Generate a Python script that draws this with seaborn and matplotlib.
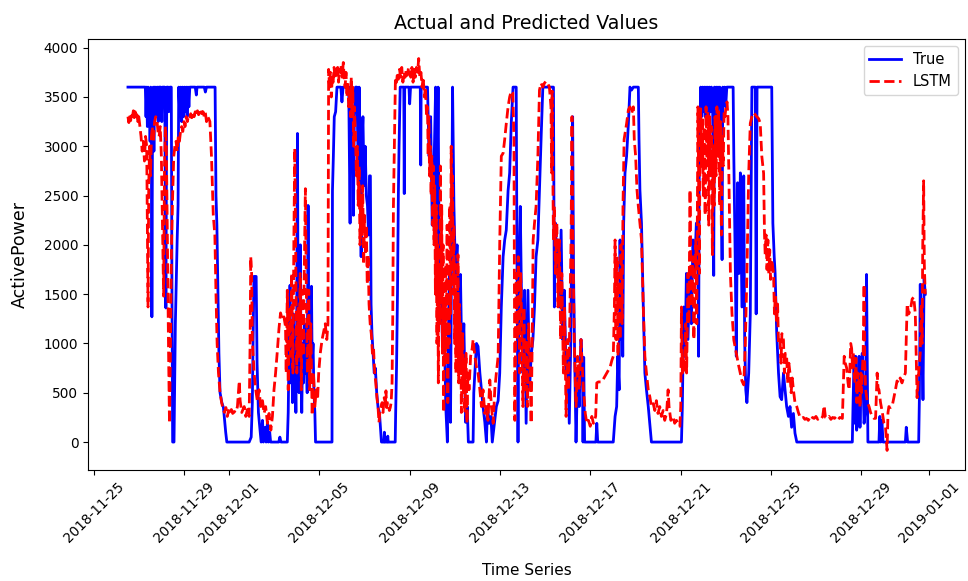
import matplotlib
matplotlib.use("Agg")
import matplotlib.pyplot as plt
import matplotlib.dates as mdates
import seaborn as sns
import pandas as pd

START = "2018-11-25"

# ---- True series: day offsets from START and ActivePower values ----
true_days = [
    1.52, 2.29, 2.32, 2.35, 2.38, 2.41, 2.44, 2.47, 2.50, 2.53, 2.56, 2.58, 2.61, 2.64, 2.67, 2.70, 2.73, 2.76, 2.80, 2.83,
    2.86, 2.89, 2.98, 3.02, 3.05, 3.15, 3.20, 3.24, 3.30, 3.33, 3.38, 3.44, 3.47, 3.50, 3.56, 3.62, 3.70, 3.74, 3.77, 3.82,
    3.86, 3.90, 3.94, 3.98, 4.02, 4.06, 4.10, 4.14, 4.18, 4.22, 4.26, 4.50, 4.55, 4.58, 4.90, 4.95, 5.00, 5.38, 5.42, 5.46,
    5.50, 5.55, 5.60, 5.68, 5.75, 5.85, 5.90,
    6.89, 6.98, 7.03, 7.10, 7.20, 7.24, 7.30, 7.36, 7.42, 7.48, 7.52, 7.60, 7.64, 7.70, 7.74, 7.80, 7.84, 8.20, 8.25, 8.30,
    8.58, 8.62, 8.66, 8.70, 8.73, 8.77, 8.81, 8.85, 8.88, 8.92, 8.96, 9.00, 9.03, 9.06, 9.10, 9.13, 9.16, 9.19, 9.22, 9.26,
    9.30, 9.34, 9.38, 9.42, 9.46, 9.50, 9.53, 9.57, 9.61, 9.65, 9.68, 9.72, 9.76, 9.80, 9.83,
    10.56, 10.58, 10.62, 10.66, 10.72, 10.78, 10.95, 11.00, 11.05, 11.30, 11.36, 11.40,
    11.44, 11.48, 11.51, 11.55, 11.60, 11.66, 11.72, 11.76, 11.80, 11.85, 11.88, 11.93, 11.98, 12.03, 12.08, 12.13, 12.18,
    12.22, 12.26, 12.29, 12.33, 12.38, 12.43, 12.48, 12.54, 12.60, 12.66, 12.72, 12.75, 12.86, 12.88, 12.90, 13.01, 13.03,
    13.05, 13.36, 13.38, 13.42, 13.46, 13.50, 13.53, 13.58, 13.74, 13.76, 13.78, 13.97, 14.00, 14.04, 14.47, 14.49, 14.51,
    14.79, 14.86, 14.93, 15.00, 15.08, 15.15, 15.19, 15.26, 15.32, 15.38, 15.45, 15.52, 15.60, 15.67, 15.71, 15.76, 15.81,
    15.86, 15.90, 15.96, 16.03, 16.10, 16.18, 16.25, 16.32, 16.40, 16.48, 16.55, 16.60,
    16.81, 16.84, 16.96, 17.03, 17.11, 17.18, 17.25, 17.33, 17.40, 17.45, 17.52, 17.60, 17.66, 17.84, 17.92, 17.99, 18.06,
    18.14, 18.21, 18.28, 18.36, 18.43, 18.50, 18.58, 18.72, 18.75, 18.80, 18.84, 18.90, 18.96, 19.02, 19.09, 19.16, 19.24,
    19.31, 19.38, 19.46, 19.53, 19.60, 19.68, 19.75, 19.83, 19.90, 20.37, 20.41, 20.46, 20.52, 20.57, 20.63, 20.71, 20.78,
    20.85, 20.93, 21.00, 21.07, 21.14, 21.22, 21.26, 21.31, 21.37, 21.44, 21.51, 21.59, 21.66,
    21.68, 21.71, 21.75, 22.25, 22.29, 22.33, 23.02, 23.10, 23.17, 23.22, 23.28, 23.32, 23.36, 23.39, 23.44, 23.48, 23.54,
    23.61, 23.69, 23.76, 23.83, 23.91, 24.13, 24.16, 24.20, 24.27, 24.35, 24.42, 24.49, 24.57, 24.71, 26.04, 26.08, 26.14,
    26.20, 26.26, 26.33, 26.40, 26.48, 26.55, 26.62, 26.70, 26.77,
    26.80, 26.83, 26.89, 26.93, 26.97, 27.01, 27.05, 27.09, 27.13, 27.17, 27.21, 27.25, 27.29, 27.33, 27.37, 27.42, 27.47,
    27.50, 27.54, 27.58, 27.62, 27.66, 27.70, 27.74, 27.78, 27.84, 27.87, 27.91, 27.95, 28.00, 28.05, 28.33, 28.36, 28.43,
    28.47, 28.53, 28.59, 28.65, 28.72, 28.80, 28.84, 28.89, 28.94, 29.02, 29.09, 29.16, 29.31, 29.35, 29.39, 30.04, 30.09,
    30.15, 30.19, 30.26, 30.34, 30.41, 30.48, 30.56, 30.63, 30.70, 30.78, 30.85, 30.92, 31.00, 31.07, 31.15,
    33.61, 33.64, 33.69, 33.73, 33.76, 33.80, 33.84, 33.91, 33.95, 34.00, 34.05, 34.13, 34.20, 34.24, 34.30, 34.79, 34.83,
    34.87, 34.92, 34.97, 35.96, 36.00, 36.06, 36.55, 36.58, 36.62, 36.66, 36.70, 36.74, 36.79, 36.84,
]
true_power = [
    3600, 3600, 3300, 3600, 3200, 3600, 3250, 3550, 3050, 3600, 3300, 1270, 3400, 3600, 2950, 3600, 3300, 3600, 3450, 3600,
    3250, 3600, 3600, 3250, 3600, 3600, 1360, 3600, 3600, 3350, 3600, 3600, 1500, 0, 0, 1200, 2050, 2400, 3600, 3300,
    3600, 3250, 3600, 3300, 3600, 3350, 3600, 3300, 3600, 3400, 3600, 3600, 3520, 3600, 3600, 3550, 3600, 3600, 2500, 2200,
    1600, 900, 500, 400, 350, 100, 0,
    0, 50, 400, 1680, 1680, 800, 300, 150, 0, 220, 0, 150, 0, 200, 0, 100, 0, 0, 50, 0,
    0, 300, 1000, 1590, 600, 1100, 400, 1300, 600, 900, 300, 1400, 3130, 1000, 500, 1200, 2000, 700, 300, 1000,
    600, 1200, 700, 1000, 500, 2400, 1000, 600, 1100, 1580, 800, 1000, 500, 300, 0,
    0, 2550, 2900, 3300, 3350, 3600, 3600, 3450, 3600, 3600, 2220, 3600,
    2800, 3400, 2300, 3300, 3600, 3600, 2800, 3600, 3100, 1880, 3000, 3300, 2600, 3000, 2500, 2400, 2100,
    2700, 2700, 1400, 1100, 900, 700, 750, 500, 350, 300, 100, 0, 0, 100, 0, 0, 60,
    0, 0, 300, 780, 1500, 2520, 3000, 3600, 3600, 2520, 3600, 3600, 3430, 3600, 3600, 2810, 3600,
    3600, 2900, 3300, 2200, 2800, 3600, 2000, 3600, 1400, 2000, 1000, 1400, 360, 0, 1000, 1700, 200,
    2000, 3600, 2400, 1700, 2000, 1200, 1700, 700, 1200, 200, 360, 0,
    0, 500, 1000, 970, 700, 530, 360, 200, 0, 360, 190, 260, 0, 360, 420, 700, 1370,
    1880, 2050, 2150, 2550, 2730, 3230, 3600, 3600, 2050, 0, 1710, 2390, 1370, 700, 1540, 190, 1540,
    530, 870, 1040, 1370, 1880, 2050, 2560, 3130, 3600, 3600, 1370, 2220, 1710, 2050, 1370, 2150, 1040,
    1540, 700, 870, 190, 1040, 3300, 1710, 870, 0, 700, 360, 1040, 700,
    0, 860, 0, 0, 190, 0, 0, 260, 360, 870, 530, 2050, 1040, 1980, 870, 2220, 2730,
    2900, 3230, 3600, 3570, 3600, 3600, 3070, 2560, 2220, 1370, 700, 530, 360, 0, 0, 360, 1370,
    870, 1710, 1040, 1710, 1200, 2050, 1710, 2220, 2050,
    870, 2730, 3600, 3300, 3600, 3350, 3600, 3300, 3600, 3400, 3600, 3300, 3600, 3350, 3600, 3450, 1690,
    3600, 3300, 3600, 3350, 3600, 3400, 3600, 3300, 1850, 3600, 3450, 3600, 3400, 3600, 3600, 2900, 1710,
    870, 2630, 1710, 2730, 1370, 2700, 1040, 530, 400, 700, 1300, 3600, 3600, 1300, 3600, 3600, 2220,
    1880, 1710, 1110, 700, 460, 430, 700, 530, 360, 260, 360, 150, 290, 90, 0,
    0, 360, 870, 190, 870, 120, 190, 870, 150, 700, 900, 190, 360, 1700, 0, 0, 260,
    0, 220, 0, 0, 150, 0, 0, 430, 1600, 700, 1040, 430, 1670, 1500,
]

# ---- LSTM prediction series ----
pred_days = [
    1.52, 1.56, 1.60, 1.64, 1.68, 1.72, 1.76, 1.80, 1.84, 1.88, 1.92, 1.96, 2.00, 2.05, 2.10, 2.15, 2.20, 2.25, 2.30, 2.35,
    2.38, 2.41, 2.44, 2.48, 2.52, 2.56, 2.60, 2.65, 2.70, 2.75, 2.80, 2.85, 2.90, 2.95, 3.00, 3.05, 3.10, 3.14, 3.18, 3.22,
    3.27, 3.32, 3.36, 3.40, 3.45, 3.50, 3.55, 3.60, 3.65, 3.70, 3.75, 3.80, 3.85, 3.90, 3.95, 4.00, 4.05, 4.10, 4.15, 4.20,
    4.25, 4.30, 4.35, 4.40, 4.45, 4.50, 4.55, 4.60, 4.65, 4.70, 4.75, 4.80, 4.85, 4.90, 4.95, 5.00, 5.05, 5.10, 5.15, 5.22,
    5.30, 5.37, 5.42, 5.47, 5.53, 5.60, 5.67, 5.74, 5.80, 5.86, 5.92, 5.98, 6.04, 6.10, 6.16, 6.23, 6.30, 6.37, 6.45, 6.49,
    6.56, 6.67, 6.74, 6.81, 6.89, 6.93, 6.96, 7.00, 7.03, 7.11, 7.18, 7.25, 7.33, 7.40, 7.48, 7.55, 7.62, 7.70, 7.77, 7.85,
    7.92, 7.99, 8.06, 8.14, 8.21, 8.28, 8.36, 8.43, 8.50, 8.53, 8.58, 8.62, 8.68, 8.72, 8.77, 8.83, 8.87, 8.91, 8.96, 9.00,
    9.05, 9.09, 9.15, 9.20, 9.24, 9.28, 9.33, 9.38, 9.43, 9.47, 9.53, 9.57, 9.62, 9.68, 9.74, 9.80, 9.86, 9.92, 9.97, 10.04,
    10.12, 10.19, 10.26, 10.33, 10.38, 10.41,
    10.45, 10.49, 10.53, 10.57, 10.61, 10.65, 10.69, 10.73, 10.77, 10.81, 10.85, 10.89, 10.93, 10.97, 11.01, 11.06, 11.10,
    11.14, 11.18, 11.22, 11.26, 11.30, 11.34, 11.38, 11.41, 11.45, 11.48, 11.52, 11.55, 11.60, 11.64, 11.68, 11.72, 11.76,
    11.80, 11.84, 11.88, 11.92, 11.96, 12.00, 12.04, 12.08, 12.12, 12.16, 12.20, 12.25, 12.30, 12.35, 12.40, 12.45, 12.50,
    12.55, 12.60, 12.64, 12.68, 12.72, 12.78, 12.82, 12.87, 12.92, 12.95, 12.98, 13.02, 13.06, 13.10, 13.14, 13.18, 13.22,
    13.25, 13.28, 13.32, 13.37, 13.42, 13.46, 13.50, 13.55, 13.60, 13.65, 13.70, 13.75, 13.80, 13.85, 13.90, 13.95, 14.00,
    14.05, 14.10, 14.15, 14.20, 14.25, 14.30, 14.35, 14.40, 14.45, 14.50, 14.55, 14.60, 14.65, 14.70, 14.75, 14.79,
    14.82, 14.85, 14.88, 14.92, 14.95, 14.98, 15.02, 15.05, 15.08, 15.11, 15.14, 15.18, 15.21, 15.24, 15.27, 15.30, 15.33,
    15.36, 15.39, 15.42, 15.45, 15.48, 15.51, 15.54, 15.57, 15.60, 15.63, 15.66, 15.69, 15.72, 15.75, 15.78, 15.81, 15.84,
    15.87, 15.90, 15.93, 15.96, 15.99, 16.02, 16.05, 16.08, 16.11, 16.14, 16.17, 16.20, 16.23, 16.26, 16.29, 16.32, 16.35,
    16.38, 16.41, 16.44, 16.47, 16.50,
    16.54, 16.58, 16.63, 16.70, 16.77, 16.81, 16.89, 16.96, 17.03, 17.11, 17.18, 17.25, 17.33, 17.40, 17.47, 17.55, 17.62,
    17.70, 17.77, 17.84, 17.92, 17.99, 18.06, 18.14, 18.21, 18.28, 18.36, 18.43, 18.50, 18.57, 18.62, 18.66, 18.72, 18.77,
    18.81, 18.87, 18.92, 18.96, 19.02, 19.06, 19.11, 19.16, 19.22, 19.27, 19.34, 19.38, 19.43, 19.47, 19.53, 19.60, 19.68,
    19.75, 19.82, 19.90, 19.97, 20.04, 20.11, 20.19, 20.26, 20.29, 20.31, 20.37, 20.41, 20.46, 20.52, 20.57, 20.63, 20.69,
    20.74, 20.81, 20.86, 20.93, 20.99, 21.04, 21.10, 21.15, 21.19, 21.23, 21.29, 21.37, 21.44, 21.51, 21.59, 21.66,
    21.70, 21.78, 21.85, 21.92, 22.00, 22.07, 22.14, 22.24, 22.29, 22.36, 22.51, 22.73, 22.88, 22.96, 23.02, 23.07, 23.10,
    23.14, 23.19, 23.23, 23.28, 23.32, 23.36, 23.41, 23.45, 23.50, 23.54, 23.61, 23.69, 23.76, 23.83, 23.91, 23.95, 24.01,
    24.07, 24.13, 24.20, 24.27, 24.35, 24.42, 24.49, 24.57, 24.64, 24.71, 24.79, 24.86, 24.93, 25.00, 25.08, 25.15, 25.23,
    25.30, 25.38, 25.45, 25.49, 25.57, 25.67, 25.74, 25.82, 25.89, 25.97, 26.01, 26.04, 26.08, 26.12, 26.18, 26.23, 26.27,
    26.33, 26.37, 26.42, 26.46, 26.50, 26.55, 26.59, 26.64, 26.68, 26.72, 26.77,
    26.80, 26.83, 26.87, 26.89, 26.93, 26.97, 27.01, 27.05, 27.09, 27.13, 27.17, 27.21, 27.25, 27.29, 27.33, 27.37, 27.41,
    27.45, 27.49, 27.53, 27.57, 27.61, 27.65, 27.69, 27.73, 27.77, 27.81, 27.85, 27.89, 27.93, 27.97, 28.01, 28.06, 28.10,
    28.14, 28.21, 28.28, 28.36, 28.43, 28.50, 28.57, 28.65, 28.72, 28.80, 28.87, 28.94, 29.02, 29.09, 29.16, 29.24, 29.31,
    29.38, 29.46, 29.53, 29.60, 29.68, 29.72, 29.75, 29.79, 29.83, 29.87, 29.91, 29.95, 29.99, 30.04, 30.12, 30.16, 30.20,
    30.26, 30.30, 30.34, 30.41, 30.45, 30.49, 30.56, 30.60, 30.64, 30.70, 30.75, 30.80, 30.85, 30.90, 30.95, 31.00, 31.07,
    31.15, 31.22, 31.29, 31.36, 31.44, 31.51, 31.58, 31.66, 31.73, 31.80,
    31.85, 31.92, 32.00, 32.08, 32.16, 32.24, 32.30, 32.36, 32.42, 32.50, 32.58, 32.66, 32.74, 32.82, 32.90, 32.98, 33.06,
    33.17, 33.25, 33.30, 33.36, 33.42, 33.47, 33.54, 33.58, 33.62, 33.66, 33.69, 33.73, 33.77, 33.81, 33.85, 33.88, 33.91,
    33.95, 33.99, 34.02, 34.05, 34.09, 34.13, 34.16, 34.20, 34.28, 34.35, 34.42, 34.49, 34.57, 34.64, 34.71, 34.75, 34.79,
    34.86, 34.94, 35.01, 35.08, 35.15, 35.19, 35.23, 35.30, 35.38, 35.45, 35.52, 35.59, 35.66, 35.73, 35.81, 35.88, 35.96,
    36.04, 36.11, 36.19, 36.26, 36.33, 36.40, 36.48, 36.55, 36.62, 36.66, 36.70, 36.73, 36.77, 36.80, 36.84,
]
pred_power = [
    3300, 3240, 3320, 3260, 3340, 3300, 3360, 3290, 3350, 3280, 3320, 3250, 3300, 3200, 3100, 2950, 3050, 2850, 3100, 3000,
    2200, 1370, 2600, 3000, 2700, 3100, 3200, 3050, 3250, 3300, 3280, 3150, 3100, 3200, 2900, 2200, 1480, 2800, 3200, 3000,
    2000, 900, 190, 900, 2000, 2500, 2900, 3000, 3050, 2950, 3100, 3050, 3150, 3200, 3150, 3250, 3200, 3300, 3250, 3300,
    3280, 3330, 3290, 3340, 3300, 3350, 3310, 3360, 3320, 3340, 3380, 3330, 3350, 3300, 3340, 3250, 3300, 3280, 3250, 2900,
    2300, 2100, 1500, 1000, 700, 500, 400, 330, 300, 350, 260, 320, 280, 330, 290, 310, 300, 360, 620, 420,
    300, 360, 260, 330, 260, 1000, 1880, 1700, 1040, 700, 530, 420, 530, 360, 420, 290, 360, 190, 290, 120,
    260, 530, 700, 930, 1150, 1310, 1240, 1270, 1170, 700, 1540, 530, 1370, 870, 1710, 700, 2050, 2980, 1710, 700,
    1370, 870, 1710, 530, 1540, 870, 1710, 2570, 1370, 700, 1540, 530, 1200, 270, 700, 360, 530, 430, 700, 900,
    1040, 1120, 1200, 1040, 1200, 3780,
    3600, 3750, 3500, 3700, 3650, 3800, 3700, 3780, 3720, 3800, 3650, 3780, 3750, 3820, 3700, 3850, 3700,
    3600, 3750, 3500, 3650, 3400, 3550, 3300, 3700, 3300, 3600, 3000, 3400, 3100, 2700, 3000, 2400, 2800,
    2000, 2500, 2100, 2600, 1800, 2300, 1900, 2200, 1600, 1900, 1400, 1200, 1100, 900, 950, 700, 600,
    450, 350, 200, 300, 350, 400, 300, 450, 400, 520, 350, 400, 380, 320, 350, 400, 600,
    1250, 2390, 3000, 3700, 3650, 3750, 3680, 3780, 3700, 3800, 3650, 3750, 3700, 3780, 3720, 3800, 3750,
    3700, 3800, 3650, 3780, 3700, 3800, 3750, 3890, 3700, 3750, 3600, 3700, 3500, 3600, 3300, 3400,
    2900, 3300, 2700, 3000, 2500, 2900, 2200, 2800, 2000, 2600, 1500, 2400, 1000, 2000, 600, 1800, 1200,
    2800, 1500, 2400, 900, 2000, 300, 1400, 800, 1800, 1000, 2200, 400, 1600, 1000, 2400, 1300, 3000,
    2200, 2700, 1500, 2200, 1000, 1800, 700, 1500, 1000, 1900, 600, 1400, 800, 1200, 300, 900, 1100,
    500, 800, 300, 700, 900,
    190, 700, 530, 870, 950, 1040, 870, 760, 700, 530, 360, 530, 290, 360, 220, 630, 360,
    190, 530, 700, 870, 2020, 2900, 2930, 3070, 3230, 3400, 3500, 3560, 3540, 3070, 220, 1710, 1040,
    1880, 700, 1710, 1200, 360, 1370, 530, 1040, 360, 1200, 700, 190, 1040, 2050, 2220, 2390, 2900,
    3570, 3640, 3600, 3640, 3660, 3640, 3600, 3400, 2730, 3560, 2050, 2390, 1710, 2220, 1370, 2050, 1040,
    1710, 700, 1370, 260, 1040, 530, 1370, 2050, 3300, 2050, 1040, 360, 870, 530, 1040, 700,
    530, 290, 190, 220, 160, 260, 190, 260, 600, 610, 610, 700, 760, 830, 870, 1370, 2050,
    1040, 1880, 870, 1710, 1040, 2000, 1200, 2390, 3070, 3130, 3230, 3370, 3400, 3330, 3400, 3070, 2900,
    2560, 2390, 2220, 2050, 1370, 870, 700, 530, 460, 360, 390, 320, 420, 290, 360, 260, 320,
    220, 290, 530, 360, 220, 260, 190, 220, 190, 160, 360, 1370, 700, 870, 700, 1200, 700,
    1710, 1200, 2560, 1710, 1370, 1880, 1040, 1540, 2050, 1200, 3400,
    2730, 1710, 3230, 3380, 2800, 3300, 2500, 3200, 2300, 3400, 2800, 3350, 2200, 3300, 2700, 3200, 1900,
    3000, 2400, 3300, 2700, 3400, 2900, 3350, 2400, 3250, 2100, 3100, 2800, 3350, 3300, 3400, 3450, 3300,
    2700, 1700, 1300, 1035, 950, 866, 780, 697, 620, 580, 1000, 1712, 2726, 3234, 3300, 3340, 3320,
    3300, 3280, 3234, 2900, 2726, 2100, 1900, 2100, 1750, 2050, 1700, 1950, 1650, 1850, 1712, 1300, 1500,
    1205, 1400, 1000, 1035, 800, 1100, 1035, 700, 900, 866, 600, 800, 697, 500, 650, 528, 400,
    359, 300, 257, 240, 250, 230, 240, 220, 250, 230,
    250, 240, 260, 230, 250, 240, 260, 370, 250, 240, 260, 230, 250, 240, 260, 230, 250,
    240, 870, 800, 750, 600, 530, 1000, 950, 750, 900, 700, 600, 850, 400, 700, 500, 650,
    350, 700, 500, 700, 900, 1600, 800, 530, 400, 360, 300, 260, 240, 240, 700, 550, 530,
    400, 300, 190, 150, -85, 300, 360, 350, 370, 450, 530, 620, 600, 650, 600, 650, 700,
    1400, 1300, 1350, 1450, 1470, 1300, 450, 700, 900, 1400, 1000, 2000, 2650, 1800, 1500,
]

origin = pd.Timestamp(START)
df_true = pd.DataFrame({"time": origin + pd.to_timedelta(true_days, unit="D"), "ActivePower": true_power})
df_pred = pd.DataFrame({"time": origin + pd.to_timedelta(pred_days, unit="D"), "ActivePower": pred_power})

fig, ax = plt.subplots(figsize=(9.68, 5.81), dpi=100)
fig.subplots_adjust(left=0.091, right=0.997, bottom=0.191, top=0.933)

sns.lineplot(data=df_true, x="time", y="ActivePower", ax=ax, color="blue",
             linewidth=2.0, label="True", estimator=None)
sns.lineplot(data=df_pred, x="time", y="ActivePower", ax=ax, color="red",
             linewidth=2.0, linestyle="--", label="LSTM", estimator=None)

ax.xaxis.set_major_locator(mdates.DayLocator(bymonthday=[1, 5, 9, 13, 17, 21, 25, 29]))
ax.xaxis.set_major_formatter(mdates.DateFormatter("%Y-%m-%d"))
plt.setp(ax.get_xticklabels(), rotation=45)
ax.tick_params(axis="both", labelsize=9.8)

ax.set_title("Actual and Predicted Values", fontsize=13.7, pad=7)
ax.set_xlabel("Time Series", fontsize=11, labelpad=13)
ax.set_ylabel("ActivePower", fontsize=12.5, labelpad=11)
ax.legend(loc="upper right", fontsize=10.5, handlelength=2.2)

fig.savefig("out.png", dpi=100)
